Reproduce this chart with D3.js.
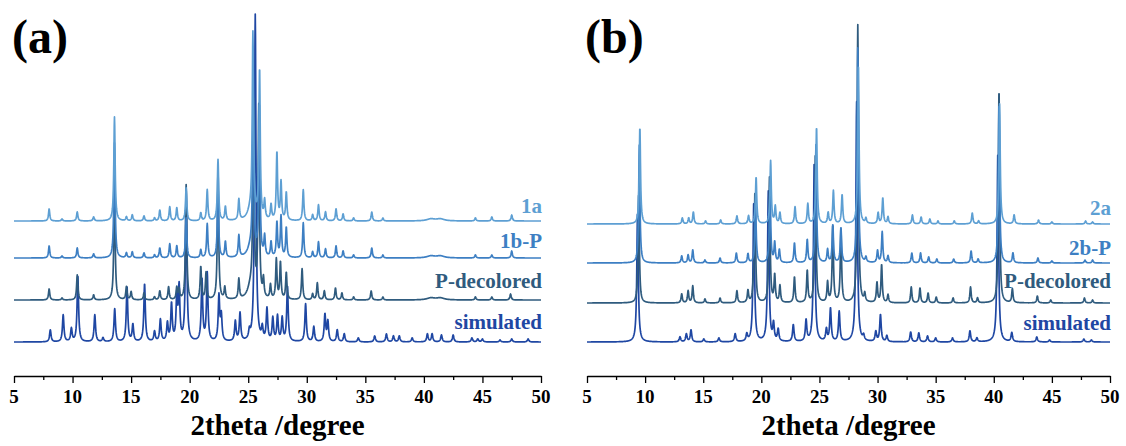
<!DOCTYPE html>
<html>
<head>
<meta charset="utf-8">
<script src="https://cdn.jsdelivr.net/npm/d3@7"></script>
</head>
<body style="margin:0">
<div id="chart"></div>
<script>
// axis ticks (2theta, degree)
const xTicks = [5, 10, 15, 20, 25, 30, 35, 40, 45, 50];
const minorTicks = [7.5, 12.5, 17.5, 22.5, 27.5, 32.5, 37.5, 42.5, 47.5];

// panel (a): names + stacking offsets (a.u.)
const namesA = ["1a", "1b-P", "P-decolored", "simulated"];
const offsetsA = [155, 118, 76, 34];

// peaks: [2theta, intensity, optional fwhm]
const peaks1a = [[8.0,12],[9.1,2],[10.4,9],[11.8,4],[13.58,104],[14.6,4],[15.1,6],[16.1,5],[17.0,3],
  [17.45,11],[18.3,14],[18.9,13],[19.7,33],[20.95,8],[21.5,31],[22.42,61],[23.05,14],[24.2,21],
  [25.2,10,0.6],[25.4,181],[25.97,150],[26.4,18],[26.95,15],[27.45,68],[27.8,38],[28.25,28],[29.7,31],
  [30.5,6],[31.0,16],[31.6,9],[32.5,12],[33.1,7],[34.0,3],[35.55,9],[36.5,3],[40.6,2,0.8],[41.4,2,0.8],
  [44.4,3],[45.8,4],[47.5,6]];
const peaks1bP = [[8.0,12],[9.1,2],[10.4,10],[11.8,4],[13.58,115],[14.6,5],[15.1,6],[16.1,5],[17.0,3],
  [17.45,10],[18.3,14],[18.9,12],[19.7,40],[20.95,8],[21.5,34],[22.42,70],[23.05,16],[24.2,22],
  [25.2,10,0.6],[25.42,155],[25.95,152],[26.4,20],[26.95,15],[27.45,35],[27.8,41],[28.25,30],[29.7,35],
  [30.5,6],[31.0,16],[31.6,9],[32.5,12],[33.1,7],[34.0,3],[35.55,10],[36.5,3],[40.6,2,0.8],[41.4,2,0.8],
  [44.4,3],[45.8,3],[47.5,7]];
const peaksDecA = [[8.0,11],[9.1,2],[10.4,25],[11.8,5],[13.58,120],[14.6,13],[15.0,8],[16.1,7],[17.0,3],
  [17.45,9],[18.2,13],[18.9,12],[19.1,10],[19.7,115],[20.95,33],[21.4,27],[22.42,130],[23.0,12],[24.2,20],
  [25.2,12,0.6],[25.45,195],[25.9,190],[26.3,18],[26.9,14],[27.4,40],[27.75,37],[28.25,27],[29.6,31],
  [30.5,6],[30.9,17],[31.5,9],[32.45,12],[33.0,7],[34.0,3],[35.5,9],[36.5,3],[40.6,2,0.8],[41.4,2,0.8],
  [44.4,3],[45.8,3],[47.4,6]];
const peaksSimA = [[8.1,12],[9.2,27],[9.9,13],[10.45,66],[11.9,27],[12.6,4],[13.6,33],[14.65,55],[15.15,17],
  [16.15,58],[17.0,10],[17.5,22],[18.1,18],[18.45,37],[18.9,43],[19.1,52],[19.7,150],[21.05,62],[21.5,68],
  [22.5,45],[22.7,25],[23.9,20],[24.3,28],[25.1,8],[25.6,327],[26.2,12],[26.6,32],[27.1,23],[27.5,25],
  [27.9,23],[28.35,55],[29.9,38],[30.6,15],[31.55,27],[31.8,20],[32.6,12],[33.2,8],[34.4,4],[35.8,6],
  [36.8,8],[37.4,6],[37.9,6],[39.0,4],[40.3,8],[40.7,8],[41.5,7],[42.5,7],[44.1,4],[44.6,3],[45.0,3],
  [46.5,2],[47.5,3],[48.9,3]];

// panel (b)
const namesB = ["2a", "2b-P", "P-decolored", "simulated"];
const offsetsB = [152, 113, 73, 34];

const peaks2a = [[9.55,97],[13.2,6],[13.75,6],[14.15,12],[15.2,3],[16.5,4],[17.9,8],[18.9,8],[19.55,47],
  [20.8,63],[21.2,17],[21.6,11],[22.9,17],[24.0,20],[24.75,97],[25.75,11],[26.2,33],[26.95,29],[28.35,160],
  [29.0,5],[30.05,11],[30.45,26],[30.9,7],[33.0,9],[33.75,7],[34.5,5],[35.2,3],[36.6,3],[38.15,11],
  [38.7,3],[40.5,120],[41.75,9],[43.85,4],[45.0,2],[47.9,3],[48.5,2]];
const peaks2bP = [[9.5,118],[13.15,7],[13.7,8],[14.1,13],[15.15,3],[16.45,5],[17.85,10],[18.85,9],[19.5,60],
  [20.75,76],[21.15,20],[21.55,13],[22.85,20],[23.95,23],[24.7,118],[25.7,13],[26.15,38],[26.85,35],
  [28.3,215],[29.0,5],[30.0,12],[30.4,31],[30.9,7],[32.95,10],[33.7,10],[34.4,6],[35.1,4],[36.55,4],
  [38.05,12],[38.65,4],[40.45,160],[41.65,10],[43.8,5],[45.0,2],[47.85,3],[48.5,3]];
const peaksDecB = [[9.45,110],[13.15,9],[13.7,12],[14.1,17],[15.15,4],[16.45,5],[17.9,12],[18.85,12],
  [19.3,8],[19.45,110],[20.7,125],[21.15,27],[21.6,17],[22.85,26],[23.95,32],[24.65,150],[25.7,20],
  [26.15,77],[26.85,74],[28.3,278],[28.9,8],[29.95,20],[30.35,38],[30.9,8],[32.9,16],[33.65,15],[34.35,10],
  [35.05,6],[36.5,5],[38.0,16],[38.6,5],[40.45,214],[41.6,14],[43.75,7],[44.9,3],[47.8,5],[48.5,3]];
const peaksSimB = [[9.35,130],[13.0,5],[13.55,8],[13.95,12],[15.05,3],[16.35,4],[17.75,8],[18.75,7],
  [19.35,140],[20.6,150],[21.05,17],[21.45,12],[22.75,17],[23.85,21],[24.55,180],[25.6,12],[25.95,33],
  [26.7,30],[28.2,240],[28.8,5],[29.85,10],[30.25,27],[30.8,6],[32.85,10],[33.55,9],[34.3,6],[35.0,4],
  [36.45,4],[37.95,11],[38.55,4],[40.35,190],[41.55,9],[43.7,5],[44.8,2],[47.75,3],[48.4,2]];

const peaksA = [peaks1a, peaks1bP, peaksDecA, peaksSimA];
const peaksB = [peaks2a, peaks2bP, peaksDecB, peaksSimB];

const W = 1126, H = 446;
const colors = ["#5d9fd3", "#3d7fc3", "#2f5b7e", "#1f47a3"];

const svg = d3.select("#chart").append("svg")
  .attr("width", W).attr("height", H)
  .attr("font-family", "Liberation Serif");

const grid = d3.range(5, 50.0001, 0.02);

// turn a peak list into a profile (lorentzian lines, cut off far from the peak)
function profile(peaks, offset, fwhm) {
  return grid.map(t => {
    let v = 0;
    for (const p of peaks) {
      let dx = t - p[0];
      if (dx > 4 || dx < -4) continue;
      let hw = (p[2] || fwhm) / 2;
      let d = dx / hw;
      v += p[1] / (1 + d * d);
    }
    return [t, offset + v];
  });
}

// text straight into the svg, serif bold
function addText(x, y, str, size, anchor, fill) {
  return svg.append("text")
    .attr("x", x).attr("y", y)
    .attr("text-anchor", anchor)
    .attr("fill", fill)
    .attr("font-family", "Liberation Serif")
    .style("font-family", `"Liberation Serif"`)
    .style("font-weight", "bold")
    .style("font-size", size + "px")
    .text(str);
}

// tick marks without the axis' own font attributes
function tickAxis(x, values, size) {
  let a = svg.append("g")
    .attr("transform", "translate(0,376)")
    .call(d3.axisBottom(x).tickValues(values).tickSize(size).tickSizeOuter(0).tickFormat(""));
  a.attr("font-family", null).attr("font-size", null).attr("fill", null);
  a.selectAll("text").remove();
  a.selectAll("line").attr("stroke-width", 1.3);
  return a;
}

function drawPanel(cfg) {
  let x = d3.scaleLinear().domain([5, 50]).range([cfg.x0, cfg.x1]);
  let y = d3.scaleLinear().domain([0, 360]).range([376, 16]);
  let line = d3.line().x(d => x(d[0])).y(d => y(d[1]));

  // traces: simulated drawn first, 1a/2a on top
  d3.range(cfg.names.length).reverse().forEach(i => {
    let fw = i === 3 ? 0.15 : 0.13;
    svg.append("path")
      .datum(profile(cfg.peaks[i], cfg.offsets[i], fw))
      .attr("fill", "none")
      .attr("stroke", colors[i])
      .attr("stroke-width", 1.7)
      .attr("stroke-linejoin", "round")
      .attr("d", line);
  });

  tickAxis(x, minorTicks, 4).select(".domain").remove();
  tickAxis(x, xTicks, 7).select(".domain").attr("stroke-width", 1.3);

  xTicks.forEach(t => addText(x(t), 403, String(t), 19, "middle", "#000"));

  cfg.names.forEach((nm, i) => {
    addText(x(50) + 1, y(cfg.offsets[i]) - cfg.labelLift[i], nm, 21, "end", colors[i]);
  });

  addText((cfg.x0 + cfg.x1) / 2, 435, "2theta /degree", 29, "middle", "#000");
  addText(cfg.x0 - 2, 53, cfg.tag, 48, "start", "#000");
}

drawPanel({ x0: 14, x1: 541, names: namesA, offsets: offsetsA, peaks: peaksA,
  labelLift: [8, 10, 12, 13], tag: "(a)" });
drawPanel({ x0: 587, x1: 1110, names: namesB, offsets: offsetsB, peaks: peaksB,
  labelLift: [9, 8, 15, 12], tag: "(b)" });
</script>
</body>
</html>
